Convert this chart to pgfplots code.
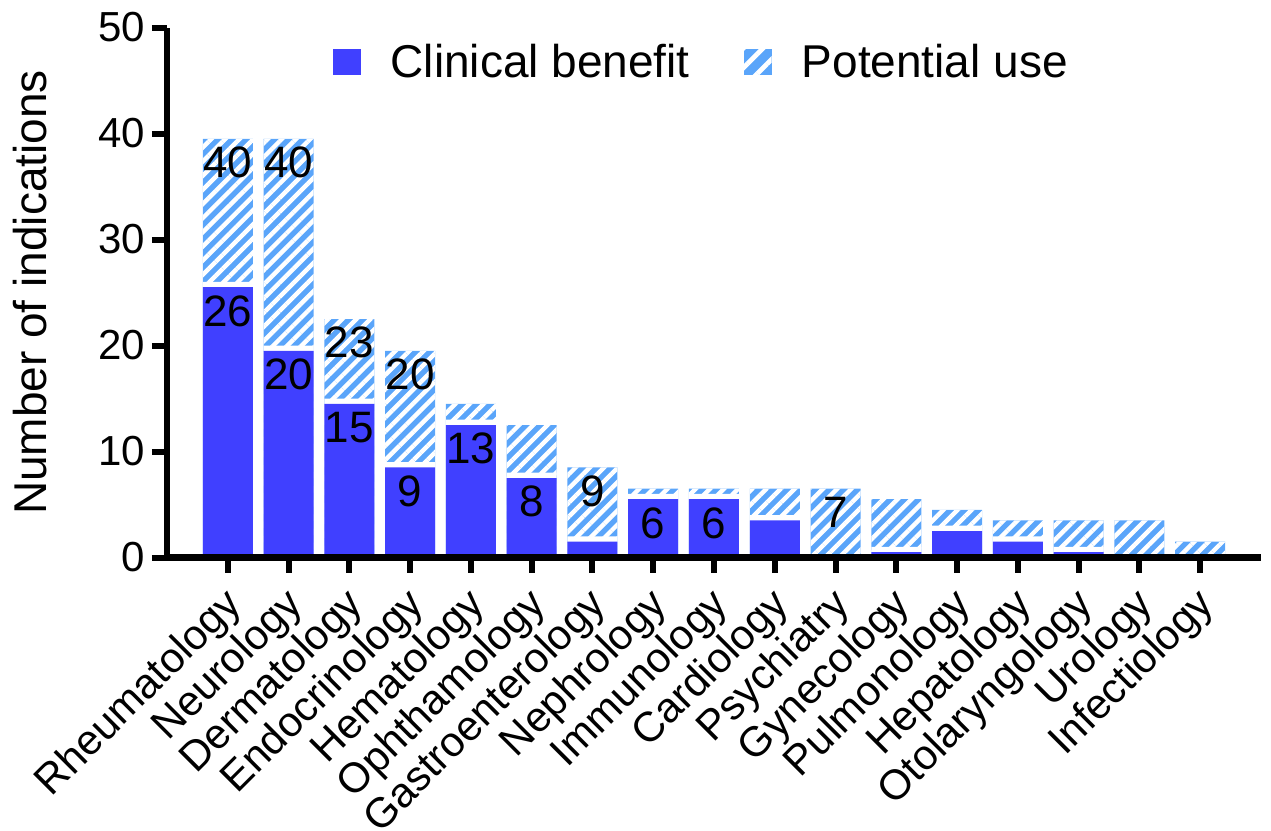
\documentclass[border=0pt]{standalone}
\usepackage{fontspec}
\setmainfont{Liberation Sans}
\usepackage{pgfplots}
\usepackage{pgfplotstable}
\pgfplotsset{compat=1.18}
\usetikzlibrary{patterns.meta}

\definecolor{solidblue}{RGB}{64,64,255}
\definecolor{hatchblue}{RGB}{90,165,250}

% cb = clinical benefit, pu = potential use (total), labels shown in bars
\pgfplotstableread{
x cb pu cblab pulab
0 26 40 26 40
1 20 40 20 40
2 15 23 15 23
3 9 20 9 20
4 13 15 13 {}
5 8 13 8 {}
6 2 9 {} 9
7 6 7 6 {}
8 6 7 6 {}
9 4 7 {} {}
10 0 7 {} 7
11 1 6 {} {}
12 3 5 {} {}
13 2 4 {} {}
14 1 4 {} {}
15 0 4 {} {}
16 0 2 {} {}
}\datatable

\pgfplotsset{
  barlabels/.style={nodes near coords, point meta=explicit symbolic,
    every node near coord/.append style={anchor=center, yshift=-11.85pt,
      text=black, font=\fontsize{22}{26}\selectfont}},
}

\begin{document}
\begin{tikzpicture}
\begin{axis}[
  scale only axis, width=547pt, height=265pt,
  xmin=-1, xmax=17, ymin=0, ymax=50,
  axis on top,
  axis x line*=bottom, axis y line*=left,
  axis line style={line width=3.2pt, -},
  tick align=outside, major tick length=7.5pt,
  every tick/.append style={black, line width=3pt},
  xtick={0,...,16},
  xticklabels={Rheumatology,Neurology,Dermatology,Endocrinology,Hematology,Ophthamology,Gastroenterology,Nephrology,Immunology,Cardiology,Psychiatry,Gynecology,Pulmonology,Hepatology,Otolaryngology,Urology,Infectiology},
  xticklabel style={rotate=45, anchor=east, xshift=-3pt, yshift=-12pt,
    font=\fontsize{21}{25}\selectfont},
  ytick={0,10,...,50},
  yticklabel style={font=\fontsize{21}{25}\selectfont},
  /pgf/number format/assume math mode=true,
  ylabel={Number of indications},
  ylabel shift=19pt,
  ylabel style={font=\fontsize{23}{27}\selectfont},
  ybar, bar width=25pt, bar shift=0pt,
  legend columns=2,
  legend style={at={(0.151,0.935)}, anchor=west, draw=none, fill=none,
    font=\fontsize{23}{27}\selectfont, inner sep=0pt, nodes={inner sep=0pt},
    /tikz/every odd column/.append style={column sep=15pt},
    /tikz/every even column/.append style={column sep=27pt}},
]
\addlegendimage{legend image code/.code={\path[fill=solidblue, draw=none] (0pt,-6.5pt) rectangle (14pt,6.5pt);}}
\addlegendentry{Clinical benefit}
\addlegendimage{legend image code/.code={
  \path[fill=hatchblue, draw=none] (0pt,-6.5pt) rectangle (14pt,6.5pt);
  \path[draw=none, pattern={Lines[angle=45,distance=7pt,line width=2.4pt]}, pattern color=white] (0pt,-6.5pt) rectangle (14pt,6.5pt);}}
\addlegendentry{Potential use}

% potential use (hatched), drawn from 0 to the total
\addplot[forget plot, yshift=-2.65pt, draw=none, preaction={fill=hatchblue},
  pattern={Lines[angle=45,distance=5pt,line width=2.2pt]}, pattern color=white,
  barlabels]
  table[x=x, y=pu, meta=pulab] {\datatable};
% white border above the clinical benefit part
\addplot[forget plot, fill=white, draw=none]
  table[x=x, y=cb] {\datatable};
% clinical benefit (solid)
\addplot[forget plot, yshift=-2.65pt, fill=solidblue, draw=none, barlabels]
  table[x=x, y=cb, meta=cblab] {\datatable};
\coordinate (o) at (rel axis cs:0,0);
\end{axis}
\pgfresetboundingbox
\path ([shift={(-83.5pt,-136.75pt)}]o) rectangle ([shift={(552pt,278.75pt)}]o);
\end{tikzpicture}
\end{document}
